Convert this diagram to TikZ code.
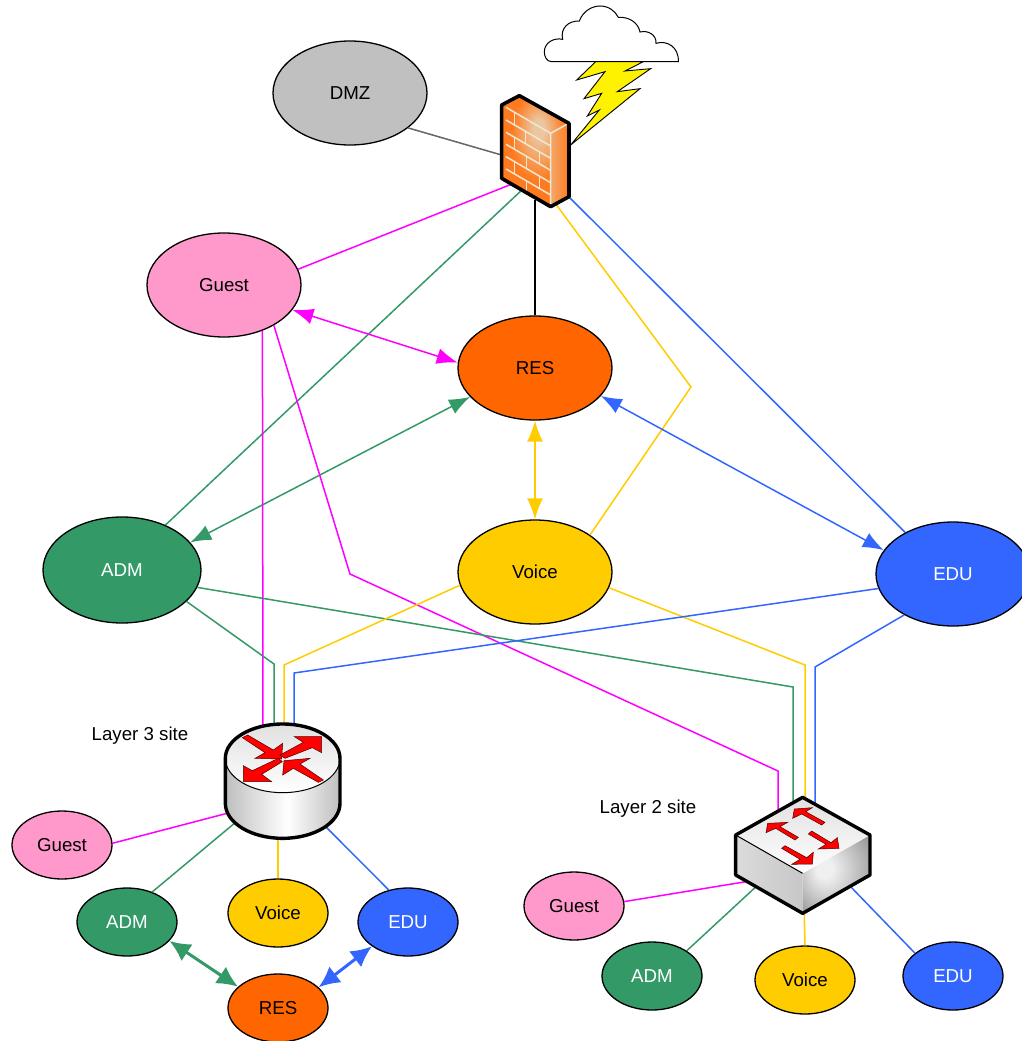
\documentclass[tikz,border=0pt]{standalone}
\usepackage{fontspec}
\setmainfont{Liberation Sans}
\usetikzlibrary{arrows.meta,shapes.geometric}
\definecolor{cgreen}{HTML}{339966}
\definecolor{cmag}{HTML}{FF00FF}
\definecolor{cyel}{HTML}{FFCC00}
\definecolor{cblue}{HTML}{3366FF}
\definecolor{corange}{HTML}{FF6600}
\definecolor{cpink}{HTML}{FF99CC}
\definecolor{cgray}{HTML}{C0C0C0}
\definecolor{brick}{HTML}{EFE8D2}
\definecolor{fwdark}{HTML}{FF7A1E}
\definecolor{fwlight}{HTML}{EBC7A0}
\definecolor{bodyedge}{HTML}{BEBEBE}
\pgfdeclareradialshading{fwglow}{\pgfpoint{3bp}{11bp}}{color(0bp)=(fwlight);color(4bp)=(fwlight);color(20bp)=(fwdark);color(50bp)=(fwdark)}
\pgfdeclareradialshading{swglow}{\pgfpoint{-10bp}{4bp}}{color(0bp)=(black!6);color(6bp)=(black!6);color(36bp)=(black!42);color(50bp)=(black!42)}
\pgfdeclarehorizontalshading{bodyshade}{100bp}{color(0bp)=(bodyedge);color(25bp)=(bodyedge);color(52bp)=(white);color(75bp)=(bodyedge);color(100bp)=(bodyedge)}
\tikzset{
  big/.style={ellipse,draw=black,line width=1.3pt,minimum width=154pt,minimum height=104pt,inner sep=0pt,font=\fontsize{18.7}{20}\selectfont},
  small/.style={ellipse,draw=black,line width=1.3pt,minimum width=100pt,minimum height=68pt,inner sep=0pt,font=\fontsize{18.7}{20}\selectfont},
  lab/.style={font=\fontsize{18.7}{20}\selectfont,inner sep=0pt},
  link/.style={line width=1.5pt},
  both/.style={line width=1.5pt,{Latex[length=21pt,width=16pt]}-{Latex[length=21pt,width=16pt]}},
  bothbold/.style={line width=3pt,{Latex[length=21pt,width=20pt]}-{Latex[length=21pt,width=20pt]}},
  zoomscope/.style={x=0.33333pt,y=-0.33333pt},
  redarrow/.style={fill=red,draw=black!70!red,line width=0.5pt,line join=miter},
  iconline/.style={line width=3.4pt,line join=round,draw=black},
}
\begin{document}
\begin{tikzpicture}[x=1pt,y=-1pt]
\useasboundingbox (0,0) rectangle (1021,1041);
% top-level networks
\node[big,fill=cgray] (dmz) at (350,93) {DMZ};
\node[big,fill=cpink] (guest) at (224,285) {Guest};
\node[big,fill=corange] (res) at (535,368) {RES};
\node[big,fill=cgreen,text=white,minimum width=158pt,minimum height=106pt] (adm) at (122,570) {ADM};
\node[big,fill=cyel] (voice) at (535,572) {Voice};
\node[big,fill=cblue,text=white] (edu) at (953,574) {EDU};
% layer 3 site
\node[small,fill=cpink] (guestA) at (62,845) {Guest};
\node[small,fill=cgreen,text=white] (admA) at (127,922) {ADM};
\node[small,fill=cyel] (voiceA) at (278,913) {Voice};
\node[small,fill=cblue,text=white] (eduA) at (408,922) {EDU};
\node[small,fill=corange] (resA) at (278,1008) {RES};
% layer 2 site
\node[small,fill=cpink] (guestB) at (574,906) {Guest};
\node[small,fill=cgreen,text=white] (admB) at (652,976) {ADM};
\node[small,fill=cyel] (voiceB) at (805,980) {Voice};
\node[small,fill=cblue,text=white] (eduB) at (953,976) {EDU};
\node[lab] (l3) at (140,736) {Layer 3 site};
\node[lab] (l2) at (648,809) {Layer 2 site};
% ports on the icons
\coordinate (fwD) at (505,156);
\coordinate (fwG) at (512,184);
\coordinate (fwA) at (524,188);
\coordinate (fwR) at (535,200);
\coordinate (fwV) at (555,203);
\coordinate (fwE) at (566,194);
\coordinate (rG) at (263,735);
\coordinate (rA) at (274,735);
\coordinate (rV) at (284,735);
\coordinate (rE) at (294,735);
\coordinate (rgA) at (232,812);
\coordinate (raA) at (236,822);
\coordinate (rvA) at (278,830);
\coordinate (reA) at (324,825);
\coordinate (sG) at (778,820);
\coordinate (sA) at (793,805);
\coordinate (sV) at (805,805);
\coordinate (sE) at (815,805);
\coordinate (sgB) at (750,881);
\coordinate (saB) at (760,883);
\coordinate (svB) at (804,905);
\coordinate (seB) at (848,884);
% bends
\coordinate (b1) at (691,387);
\coordinate (b2) at (350,574);
\coordinate (b3) at (778,771);
\coordinate (b4) at (274,664);
\coordinate (b5) at (793,687);
\coordinate (b6) at (284,665);
\coordinate (b7) at (805,665);
\coordinate (b8) at (294,673);
\coordinate (b9) at (815,667);
% connectors
\draw[link,draw=black!60] (dmz.-31) -- (fwD);
\draw[link,cmag] (guest.12) -- (fwG);
\draw[link,cgreen] (adm.46) -- (fwA);
\draw[link,black] (res.90) -- (fwR);
\draw[link,cyel] (voice.34) -- (b1) -- (fwV);
\draw[link,cblue] (edu.139) -- (fwE);
\draw[both,cmag] (guest.-20) -- (res.176);
\draw[both,cgreen] (adm.22) -- (res.204);
\draw[both,cyel] (res.270) -- (voice.90);
\draw[both,cblue] (res.-23) -- (edu.161);
\draw[link,cmag] (guest.-50) -- (rG);
\draw[link,cmag] (guest.-39) -- (b2) -- (b3) -- (sG);
\draw[link,cgreen] (adm.-26) -- (b4) -- (rA);
\draw[link,cgreen] (adm.-13.5) -- (b5) -- (sA);
\draw[link,cyel] (voice.190) -- (b6) -- (rV);
\draw[link,cyel] (voice.-12.6) -- (b7) -- (sV);
\draw[link,cblue] (edu.191) -- (b8) -- (rE);
\draw[link,cblue] (edu.220) -- (b9) -- (sE);
\draw[link,cmag] (guestA.2) -- (rgA);
\draw[link,cgreen] (admA.50) -- (raA);
\draw[link,cyel] (voiceA.90) -- (rvA);
\draw[link,cblue] (eduA.121) -- (reA);
\draw[bothbold,cgreen] (admA.-24) -- (resA.152);
\draw[bothbold,cblue] (eduA.214) -- (resA.27);
\draw[link,cmag] (guestB.5) -- (sgB);
\draw[link,cgreen] (admB.36) -- (saB);
\draw[link,cyel] (voiceB.90) -- (svB);
\draw[link,cblue] (eduB.149) -- (seB);
% firewall, cloud and lightning
\begin{scope}[shift={(480,0)},zoomscope]
  \draw[black,fill=white,line width=1pt] (215,185)
    .. controls (200,185) and (193,170) .. (193,155)
    .. controls (193,128) and (222,112) .. (248,118)
    .. controls (240,85) and (265,62) .. (298,63)
    .. controls (310,30) and (340,18) .. (360,18)
    .. controls (385,18) and (405,32) .. (415,52)
    .. controls (450,50) and (475,70) .. (480,96)
    .. controls (505,90) and (530,105) .. (528,130)
    .. controls (560,120) and (597,140) .. (595,185) -- cycle;
  \draw[black,fill=yellow,line width=0.9pt,line join=miter] (347,185) -- (290,240) -- (375,215) -- (312,296) -- (365,280) -- (322,348) -- (358,330) -- (272,435) -- (480,266) -- (412,275) -- (512,206) -- (435,213) -- (490,185) -- cycle;
  \shade[shading=fwglow] (65,315) -- (118,287) -- (267,370) -- (212,400) -- (212,620) -- (65,535) -- cycle;
  \shade[left color=fwlight!60!fwdark,right color=fwdark] (212,400) -- (267,370) -- (267,590) -- (212,620) -- cycle;
  \begin{scope}[draw=brick,line width=1.5pt]
    \draw (78,322) -- (212,400) -- (212,612);
    \draw (212,400) -- (262,372);
    \foreach \ly in {360,397,433,470,507,545}
      \draw (78,\ly) -- (212,\ly+78);
    \foreach \vx/\ly in {103/322,137/360,103/397,178/397,140/433,103/470,178/470,140/507}
      \draw (\vx,{\ly+0.58*(\vx-78)}) -- (\vx,{\ly+37+0.58*(\vx-78)});
  \end{scope}
  \draw[black,line width=3.6pt,line join=round] (65,315) -- (118,287) -- (267,370) -- (267,590) -- (212,620) -- (65,535) -- cycle;
\end{scope}
% router
\begin{scope}[shift={(210,660)},zoomscope]
  \shade[shading=bodyshade] (46,295) -- (46,430) arc[start angle=180,end angle=360,x radius=172,y radius=-105] -- (390,295) -- cycle;
  \shade[top color=black!12,bottom color=white] (218,295) ellipse[x radius=172,y radius=103];
  \draw[black,line width=1pt] (46,295) arc[start angle=180,end angle=360,x radius=172,y radius=-103];
  \draw[iconline] (46,295) arc[start angle=180,end angle=0,x radius=172,y radius=-103] -- (390,430) arc[start angle=360,end angle=180,x radius=172,y radius=-105] -- cycle;
  \draw[redarrow] (97,233) -- (113,225) -- (190,270) -- (218,250) -- (215,297) -- (135,295) -- (165,278) -- cycle;
  \draw[redarrow] (210,285) -- (280,247) -- (253,230) -- (335,230) -- (335,278) -- (307,263) -- (225,295) -- cycle;
  \draw[redarrow] (205,295) -- (217,305) -- (155,343) -- (185,365) -- (100,365) -- (100,317) -- (127,332) -- cycle;
  \draw[redarrow] (340,360) -- (325,367) -- (250,325) -- (218,345) -- (222,302) -- (300,295) -- (270,312) -- cycle;
\end{scope}
% switch
\begin{scope}[shift={(720,760)},zoomscope]
  \shade[left color=black!14,middle color=black!8,right color=black!22] (47,225) -- (248,340) -- (248,460) -- (47,345) -- cycle;
  \shade[shading=swglow] (248,340) -- (450,225) -- (450,345) -- (248,460) -- cycle;
  \shade[top color=black!12,bottom color=white] (248,112) -- (450,225) -- (248,340) -- (47,225) -- cycle;
  \draw[black,line width=1pt] (47,225) -- (248,340);
  \draw[redarrow] (218,175) -- (223,147) -- (277,143) -- (257,155) -- (315,187) -- (305,195) -- (245,162) -- cycle;
  \draw[redarrow] (138,218) -- (143,190) -- (203,187) -- (180,200) -- (235,232) -- (225,240) -- (167,205) -- cycle;
  \draw[redarrow] (265,222) -- (275,213) -- (333,248) -- (352,233) -- (357,265) -- (295,267) -- (318,253) -- cycle;
  \draw[redarrow] (185,265) -- (195,257) -- (260,293) -- (280,277) -- (277,312) -- (215,313) -- (240,298) -- cycle;
  \draw[iconline] (248,112) -- (450,225) -- (450,345) -- (248,460) -- (47,345) -- (47,225) -- cycle;
\end{scope}
\end{tikzpicture}
\end{document}
